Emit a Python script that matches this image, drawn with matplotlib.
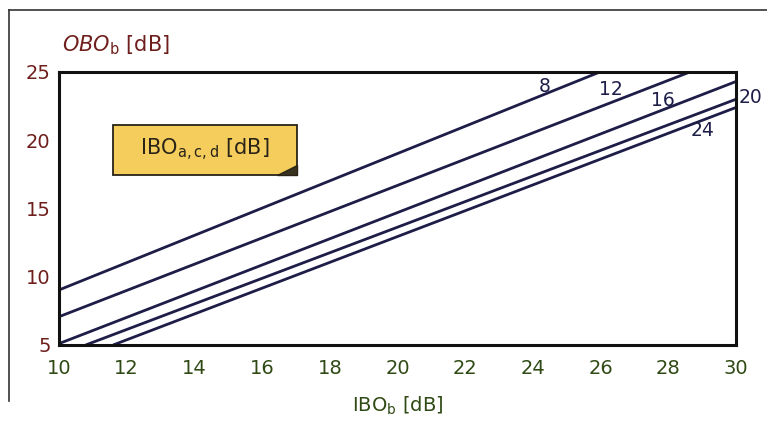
import matplotlib.pyplot as plt
from matplotlib.patches import Rectangle, Polygon
from matplotlib.lines import Line2D

# IBO_a,c,d curves: (x, y) end points
ibo_acd = ['8', '12', '16', '20', '24']
ibo_b = [[10, 25.98], [10, 28.64], [10, 30], [10.79, 30], [11.6, 30]]
obo_b = [[9.03, 25], [7.07, 25], [5.1, 24.3], [5, 23.0], [5, 22.4]]
# where each curve label sits
lab_x = [24.36, 26.3, 27.85, 30.08, 29.0]
lab_y = [23.9, 23.7, 22.9, 23.1, 20.7]

xticks = [10, 12, 14, 16, 18, 20, 22, 24, 26, 28, 30]
yticks = [5, 10, 15, 20, 25]

red = '#6e1f1c'
green = '#2f4a14'
navy = '#1d1d48'

fig = plt.figure(figsize=(7.67, 4.22), dpi=100)
ax = fig.add_axes([0.0769, 0.1825, 0.8827, 0.647])

for i in range(len(ibo_acd)):
    ax.plot(ibo_b[i], obo_b[i], color=navy, lw=2.0, solid_capstyle='butt')
    ha = 'left' if ibo_acd[i] == '20' else 'center'
    ax.text(lab_x[i], lab_y[i], ibo_acd[i], color=navy, fontsize=13.5,
            ha=ha, va='center', clip_on=False)

ax.set_xlim(10, 30)
ax.set_ylim(5, 25)
ax.set_xticks(xticks)
ax.set_yticks(yticks)
ax.tick_params(length=0, labelsize=14)
ax.tick_params(axis='x', colors=green, pad=10)
ax.tick_params(axis='y', colors=red, pad=6)
for s in ax.spines.values():
    s.set_linewidth(2.2)
    s.set_color('#111111')

ax.set_xlabel('IBO$_\\mathrm{b}$ [dB]', color=green, fontsize=14, labelpad=12)
fig.text(0.081, 0.893, '$\\mathit{OBO}_\\mathrm{b}$ [dB]', color=red,
         fontsize=15, ha='left', va='center')

# yellow note box
bx, by, bw, bh = 0.08, 0.623, 0.272, 0.183
ax.add_patch(Rectangle((bx, by), bw, bh, transform=ax.transAxes,
                       facecolor='#f4cd5c', edgecolor='#2a2418', lw=1.3))
ax.add_patch(Polygon([(bx + bw - 0.03, by), (bx + bw, by),
                      (bx + bw, by + 0.035)], closed=True,
                     transform=ax.transAxes, facecolor='#3a3220',
                     edgecolor='#2a2418', lw=1))
ax.text(bx + bw / 2, by + bh / 2, 'IBO$_\\mathrm{a,c,d}$ [dB]',
        transform=ax.transAxes, ha='center', va='center', fontsize=15,
        color='#2a2418')

# outer frame (top and left)
fig.add_artist(Line2D([0.012, 1.0], [0.976, 0.976], color='#333333', lw=1.2))
fig.add_artist(Line2D([0.012, 0.012], [0.05, 0.976], color='#333333', lw=1.2))

fig.savefig('out.png', dpi=100)
